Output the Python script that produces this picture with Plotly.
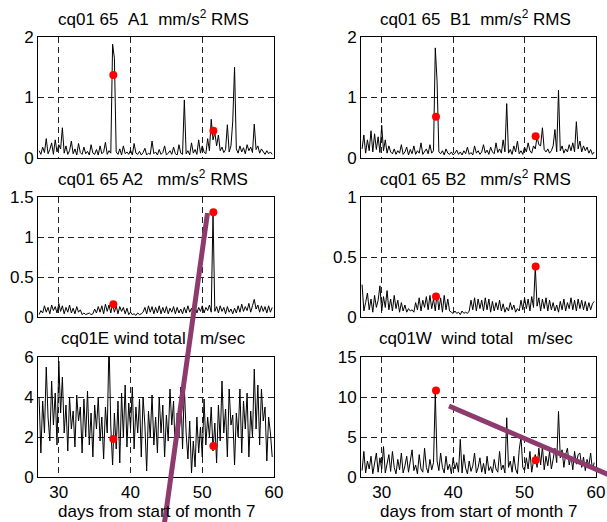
import plotly.graph_objects as go

# ---------------- data ----------------
A1 = [0.12, 0.06, 0.18, 0.09, 0.32, 0.07, 0.14, 0.25, 0.06, 0.3,
      0.1, 0.22, 0.15, 0.5, 0.08, 0.2, 0.06, 0.12, 0.28, 0.07,
      0.15, 0.05, 0.24, 0.09, 0.06, 0.18, 0.07, 0.11, 0.05, 0.22,
      0.08, 0.06, 0.14, 0.05, 0.2, 0.07, 0.1, 0.26, 0.06, 0.12,
      0.08, 1.88, 1.65, 0.1, 0.06, 0.15, 0.05, 0.2, 0.07, 0.1,
      0.06, 0.13, 0.05, 0.24, 0.08, 0.06, 0.11, 0.05, 0.09, 0.16,
      0.05, 0.08, 0.06, 0.28, 0.07, 0.1, 0.05, 0.14, 0.06, 0.09,
      0.2, 0.05, 0.08, 0.12, 0.06, 0.18, 0.07, 0.05, 0.22, 0.08,
      0.06, 0.96, 0.07, 0.12, 0.05, 0.25, 0.08, 0.14, 0.06, 0.3,
      0.08, 0.2, 0.1, 0.07, 0.32, 0.12, 0.64, 0.3, 0.42, 0.2,
      0.38, 0.12, 0.18, 0.09, 0.14, 0.55, 0.1, 0.2, 0.61, 1.5,
      0.15, 0.08, 0.2, 0.1, 0.17, 0.07, 0.22, 0.12, 0.18, 0.09,
      0.56, 0.14, 0.2, 0.08, 0.15, 0.1, 0.06, 0.12, 0.07, 0.1, 0.06]

B1 = [0.15, 0.38, 0.08, 0.3, 0.12, 0.45, 0.1, 0.4, 0.14, 0.35,
      0.09, 0.54, 0.12, 0.3, 0.08, 0.2, 0.1, 0.07, 0.15, 0.06,
      0.12, 0.08, 0.22, 0.06, 0.1, 0.18, 0.05, 0.14, 0.07, 0.2,
      0.06, 0.12, 0.08, 0.25, 0.06, 0.1, 0.15, 0.07, 0.22, 0.08,
      0.12, 1.82, 1.27, 0.1, 0.07, 0.12, 0.05, 0.15, 0.08, 0.06,
      0.1, 0.05, 0.08, 0.13, 0.06, 0.1, 0.05, 0.12, 0.07, 0.18,
      0.06, 0.09, 0.05, 0.2, 0.08, 0.12, 0.06, 0.1, 0.22, 0.08,
      0.13, 0.06, 0.18, 0.1, 0.07, 0.25, 0.09, 0.15, 0.08, 0.3,
      0.1, 0.9, 0.08, 0.14, 0.06, 0.2, 0.1, 0.28, 0.07, 0.12,
      0.06, 0.18, 0.1, 0.25, 0.12, 0.08, 0.2, 0.15, 0.35, 0.22,
      0.2, 0.5, 0.14, 0.1, 0.15, 0.08, 0.12, 0.2, 0.47, 0.1,
      1.12, 0.12, 0.2, 0.08, 0.15, 0.1, 0.22, 0.12, 0.25, 0.1,
      0.6, 0.15, 0.28, 0.1, 0.2, 0.12, 0.18, 0.08, 0.14, 0.06, 0.1]

A2 = [0.03, 0.08, 0.05, 0.14, 0.06, 0.12, 0.04, 0.15, 0.08, 0.13,
      0.05, 0.17, 0.07, 0.14, 0.04, 0.12, 0.06, 0.15, 0.05, 0.11,
      0.04, 0.13, 0.06, 0.09, 0.03, 0.05, 0.03, 0.04, 0.05, 0.03,
      0.04, 0.1, 0.05, 0.13, 0.06, 0.14, 0.04, 0.16, 0.07, 0.15,
      0.05, 0.17, 0.06, 0.14, 0.04, 0.13, 0.07, 0.12, 0.04, 0.11,
      0.03, 0.06, 0.03, 0.04, 0.02, 0.05, 0.03, 0.04, 0.06, 0.12,
      0.04, 0.14, 0.06, 0.13, 0.04, 0.12, 0.05, 0.14, 0.04, 0.12,
      0.05, 0.13, 0.04, 0.11, 0.06, 0.13, 0.04, 0.12, 0.05, 0.1,
      0.04, 0.12, 0.05, 0.14, 0.06, 0.11, 0.04, 0.13, 0.05, 0.12,
      0.07, 0.14, 0.05, 0.12, 0.08, 0.15, 0.06, 1.3, 0.07, 0.13,
      0.05, 0.14, 0.07, 0.12, 0.04, 0.13, 0.06, 0.1, 0.04, 0.11,
      0.05, 0.14, 0.06, 0.16, 0.07, 0.13, 0.08, 0.17, 0.06, 0.14,
      0.22, 0.1, 0.15, 0.06, 0.14, 0.07, 0.13, 0.05, 0.14, 0.06, 0.12]

B2 = [0.27, 0.05, 0.12, 0.2, 0.06, 0.15, 0.04, 0.18, 0.08, 0.14,
      0.26, 0.05, 0.17, 0.08, 0.22, 0.06, 0.15, 0.05, 0.18, 0.07,
      0.14, 0.04, 0.12, 0.05, 0.1, 0.04, 0.07, 0.05, 0.06, 0.04,
      0.12, 0.06, 0.16, 0.05, 0.14, 0.08, 0.17, 0.06, 0.18, 0.07,
      0.15, 0.05, 0.2, 0.06, 0.16, 0.04, 0.18, 0.06, 0.15, 0.05,
      0.04, 0.03, 0.05, 0.03, 0.04, 0.02, 0.05, 0.03, 0.04, 0.03,
      0.05, 0.14, 0.06, 0.16, 0.05, 0.15, 0.07, 0.14, 0.05, 0.16,
      0.06, 0.15, 0.04, 0.13, 0.05, 0.12, 0.06, 0.14, 0.05, 0.11,
      0.04, 0.08, 0.05, 0.12, 0.06, 0.1, 0.04, 0.07, 0.05, 0.14,
      0.06, 0.16, 0.07, 0.15, 0.05, 0.17, 0.08, 0.42, 0.09, 0.16,
      0.05, 0.15, 0.07, 0.16, 0.05, 0.14, 0.06, 0.12, 0.05, 0.1,
      0.04, 0.13, 0.06, 0.15, 0.05, 0.12, 0.07, 0.16, 0.06, 0.14,
      0.05, 0.15, 0.07, 0.14, 0.06, 0.13, 0.05, 0.12, 0.06, 0.11, 0.13]

WIND_E = [4.0, 1.2, 3.8, 2.2, 5.5, 3.0, 1.8, 4.8, 2.6, 4.2,
          1.6, 5.8, 3.2, 5.0, 2.2, 3.6, 1.3, 4.0, 2.4, 3.3,
          1.5, 4.1, 2.8, 3.5, 1.2, 3.9, 2.0, 4.3, 1.6, 3.2,
          1.0, 3.6, 2.4, 4.0, 1.8, 3.0, 0.9, 3.5, 2.2, 6.8,
          2.5, 0.6, 3.2, 1.4, 3.8, 0.7, 4.2, 2.0, 4.6, 1.5,
          3.7, 2.4, 4.5, 1.4, 3.5, 2.2, 3.9, 1.0, 4.0, 2.6,
          0.3, 3.3, 2.0, 4.1, 1.6, 3.0, 1.2, 4.0, 2.2, 3.6,
          1.0, 3.1, 1.8, 4.4, 2.6, 3.8, 0.9, 3.2, 2.0, 4.5,
          1.4, 4.5, 2.2, 0.9, 2.8, 0.2, 1.8, 0.5, 3.0, 1.2,
          2.5, 1.0, 3.9, 1.6, 3.0, 2.0, 3.5, 1.3, 2.7, 0.7,
          3.6, 1.8, 4.8, 2.2, 3.4, 1.0, 4.4, 2.6, 3.1, 0.6,
          3.2, 2.0, 4.4, 1.2, 3.8, 2.4, 4.2, 1.0, 3.3, 2.0,
          5.4, 2.4, 4.6, 1.6, 4.4, 2.8, 3.5, 0.8, 3.0, 2.2, 1.0]

WIND_W = [0.8, 3.2, 0.5, 2.0, 1.0, 2.6, 0.4, 1.8, 3.0, 0.6,
          2.4, 1.0, 3.8, 0.5, 1.6, 2.8, 0.7, 3.2, 1.2, 0.4,
          2.2, 0.9, 3.0, 0.5, 1.4, 2.6, 0.6, 1.9, 3.4, 0.8,
          1.5, 0.4, 2.8, 1.0, 0.6, 3.6, 1.2, 0.5, 2.2, 0.9,
          1.8, 10.5, 2.0, 0.8, 3.0, 1.2, 0.5, 2.6, 0.9, 1.6,
          0.4, 2.4, 1.0, 1.8, 0.6, 4.7, 0.5, 2.8, 1.1, 0.4,
          2.0, 0.7, 1.4, 3.0, 0.5, 1.2, 2.4, 0.6, 1.7, 0.4,
          2.6, 0.8, 1.3, 0.5, 2.2, 1.0, 0.6, 3.2, 0.9, 1.5,
          0.5, 7.4, 1.2, 2.0, 0.6, 2.6, 1.0, 0.4, 3.4, 5.0,
          1.2, 0.8, 2.4, 1.0, 3.2, 0.6, 2.0, 2.8, 1.2, 3.6,
          1.5, 3.8, 0.9, 2.6, 1.4, 3.2, 1.0, 2.2, 3.6, 1.8,
          8.2, 2.4, 3.4, 1.2, 2.8, 3.6, 1.5, 2.6, 0.9, 3.2,
          1.6, 2.8, 3.0, 1.2, 2.5, 0.8, 2.2, 1.4, 3.0, 0.9, 1.8]

EVENT_DAYS = [37.6, 51.55]
DOTS_A1 = [1.37, 0.45]
DOTS_B1 = [0.68, 0.36]
DOTS_A2 = [0.16, 1.31]
DOTS_B2 = [0.17, 0.42]
DOTS_E = [1.9, 1.55]
DOTS_W = [10.8, 2.1]

TITLES = ["cq01 65\u00a0\u00a0A1\u00a0\u00a0mm/s<sup>2</sup> RMS",
          "cq01 65\u00a0\u00a0B1\u00a0\u00a0mm/s<sup>2</sup> RMS",
          "cq01 65 A2\u00a0\u00a0\u00a0mm/s<sup>2</sup> RMS",
          "cq01 65 B2\u00a0\u00a0\u00a0mm/s<sup>2</sup> RMS",
          "cq01E wind total\u00a0\u00a0\u00a0m/sec",
          "cq01W\u00a0\u00a0wind total\u00a0\u00a0\u00a0m/sec"]
Y_MAX = [2, 2, 1.5, 1, 6, 15]
Y_TICKS = [[0, 1, 2], [0, 1, 2], [0, 0.5, 1, 1.5], [0, 0.5, 1], [0, 2, 4, 6], [0, 5, 10, 15]]
X_TICKS = [30, 40, 50, 60]
X_TITLE = "days from start of month 7"

SERIES = [A1, B1, A2, B2, WIND_E, WIND_W]
DOTS = [DOTS_A1, DOTS_B1, DOTS_A2, DOTS_B2, DOTS_E, DOTS_W]

# ---------------- layout ----------------
W, H = 607, 522
FONT = "Liberation Sans, Arial, sans-serif"
FS = 17
col_px = [(38, 274), (361, 596)]
row_px = [(37, 158), (197, 317), (357, 477)]

fig = go.Figure()
layout = dict(width=W, height=H, margin=dict(l=0, r=0, t=0, b=0, autoexpand=False),
              paper_bgcolor="white", plot_bgcolor="white", showlegend=False,
              font=dict(family=FONT, size=FS, color="black"))
annotations = []

for k in range(6):
    r, c = divmod(k, 2)
    ax = "" if k == 0 else str(k + 1)
    vals = SERIES[k]
    days = [27.25 + 0.25 * i for i in range(len(vals))]
    fig.add_trace(go.Scatter(x=days, y=vals, mode="lines",
                             line=dict(color="black", width=1),
                             xaxis="x" + ax, yaxis="y" + ax, hoverinfo="skip"))
    fig.add_trace(go.Scatter(x=EVENT_DAYS, y=DOTS[k], mode="markers",
                             marker=dict(color="#ff0000", size=8),
                             xaxis="x" + ax, yaxis="y" + ax, cliponaxis=False))
    x0, x1 = col_px[c]
    y0, y1 = row_px[r]
    common = dict(showline=True, mirror=True, linecolor="black", linewidth=1,
                  showgrid=True, gridcolor="#222222", gridwidth=1, griddash="6px,4px",
                  zeroline=False, ticks="", automargin=False,
                  tickfont=dict(family=FONT, size=FS))
    layout["xaxis" + ax] = dict(domain=[x0 / W, x1 / W], range=[27.1, 60],
                                tickvals=X_TICKS, showticklabels=(r == 2),
                                anchor="y" + ax, **common)
    layout["yaxis" + ax] = dict(domain=[1 - y1 / H, 1 - y0 / H], range=[0, Y_MAX[k]],
                                tickvals=Y_TICKS[k], anchor="x" + ax, **common)
    annotations.append(dict(text=TITLES[k], x=((x0 + x1) / 2 - 3) / W, y=1 - (y0 - 19) / H,
                            xref="paper", yref="paper", xanchor="center", yanchor="middle",
                            showarrow=False, font=dict(family=FONT, size=FS)))
    if r == 2:
        annotations.append(dict(text=X_TITLE, x=((x0 + x1) / 2) / W, y=1 - 511 / H,
                                xref="paper", yref="paper", xanchor="center", yanchor="middle",
                                showarrow=False, font=dict(family=FONT, size=FS)))

layout["annotations"] = annotations
purple = "#8d3a6c"
layout["shapes"] = [
    dict(type="line", xref="paper", yref="paper", x0=163.5 / W, y0=1 - 530 / H,
         x1=207.5 / W, y1=1 - 213 / H, line=dict(color=purple, width=5), layer="above"),
    dict(type="line", xref="paper", yref="paper", x0=449 / W, y0=1 - 406 / H,
         x1=620 / W, y1=1 - 479.5 / H, line=dict(color=purple, width=5), layer="above"),
]
fig.update_layout(**layout)
fig.write_html("out.html", config={"displayModeBar": False},
               post_script="document.body.style.margin='0';document.body.style.overflow='hidden';")
